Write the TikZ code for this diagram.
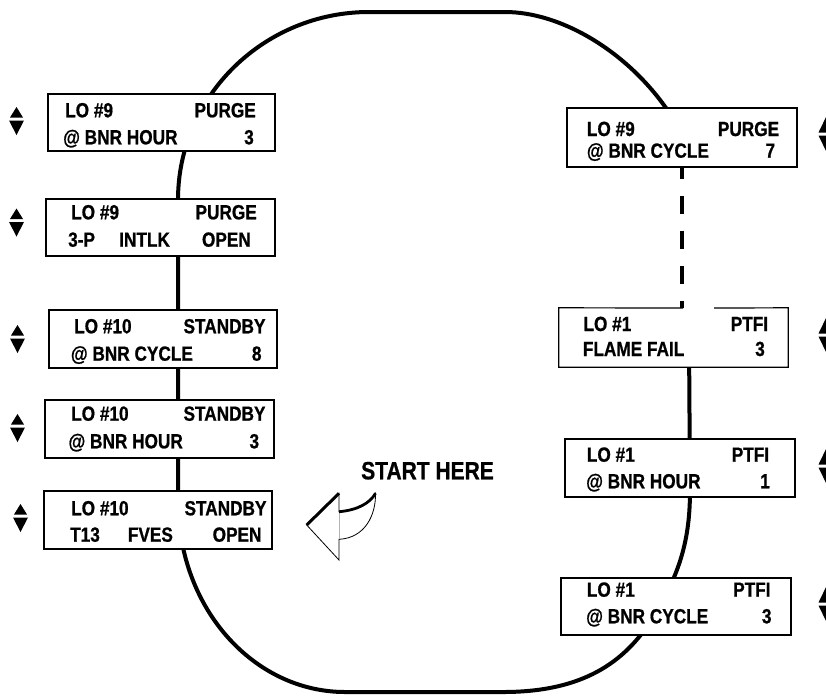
\documentclass[tikz,border=0pt]{standalone}
\usepackage{fontspec}
\setmainfont{Liberation Sans}[FakeStretch=0.84, FakeBold=0.8]
\begin{document}
\begin{tikzpicture}[x=1pt,y=-1pt,
  box/.style={draw, line width=1.2pt, fill=white, inner sep=0pt},
  lbl/.style={font=\fontsize{20.5}{21}\selectfont\bfseries, inner sep=0pt},
  lt/.style={lbl, anchor=base west},
  rt/.style={lbl, anchor=base east},
  track/.style={line width=4pt},
  dashtrack/.style={line width=3.5pt, dash pattern=on 18pt off 17pt, dash phase=7pt},
  thinline/.style={line width=0.8pt},
  thickline/.style={line width=3pt},
  lud/.pic={\fill (0,-14) -- (6.5,-3.5) -- (-6.5,-3.5) -- cycle;
            \fill (-7.5,-0.5) -- (7.5,-0.5) -- (0,14) -- cycle;},
  rud/.pic={\fill (0,-18) -- (8,-1.5) -- (-8,-1.5) -- cycle;
            \fill (-8,1.5) -- (8,1.5) -- (0,18) -- cycle;},
]
\useasboundingbox (0,0) rectangle (826,697);

% main track
\coordinate (t1) at (689,340);
\coordinate (t2) at (690,490);
\coordinate (t3) at (650,622);
\coordinate (t4) at (503,692);
\coordinate (t5) at (345,692);
\coordinate (t6) at (178,500);
\coordinate (t7) at (178,200);
\coordinate (t8) at (369,12);
\coordinate (t9) at (505,12);
\coordinate (t10) at (666,108);
\coordinate (t11) at (675,130);
\draw[track] (t1) -- (t2) .. controls (690,540) and (680,575) .. (t3)
  .. controls (620,668) and (575,692) .. (t4) -- (t5)
  .. controls (255,692) and (178,610) .. (t6) -- (t7)
  .. controls (178,95) and (265,12) .. (t8) -- (t9)
  .. controls (560,12) and (625,50) .. (t10) -- (t11);

% left boxes
\node[box, minimum width=227pt, minimum height=57pt] (L1) at (161.5,122.5) {};
\node[box, minimum width=229pt, minimum height=57pt] (L2) at (160.5,227.5) {};
\node[box, minimum width=228pt, minimum height=58pt] (L3) at (163,339) {};
\node[box, minimum width=229pt, minimum height=58pt] (L4) at (159.5,429) {};
\node[box, minimum width=228pt, minimum height=58pt] (L5) at (158,520) {};
% right boxes
\node[box, minimum width=230pt, minimum height=59pt] (R1) at (682,137.5) {};
\node[fill=white, inner sep=0pt, minimum width=229pt, minimum height=59pt] (R2) at (673.5,337.5) {};
\draw[line width=1.2pt] (683,308) -- (R2.north west) -- (R2.south west) -- (R2.south east) -- (R2.north east) -- (714,308);
\node[box, minimum width=230pt, minimum height=58pt] (R3) at (680,468) {};
\node[box, minimum width=230pt, minimum height=57pt] (R4) at (676,606.5) {};

% dashed link
\draw[dashtrack] (R1.south) -- (R1.south |- R2.north);

% texts
\node[lt] (L1a) at (65,117.3) {LO \#9};
\node[rt] (L1b) at (256,117.3) {PURGE};
\node[lt] (L1c) at (63,144.3) {@ BNR HOUR};
\node[rt] (L1d) at (254,144.3) {3};

\node[lt] (L2a) at (71,219.3) {LO \#9};
\node[rt] (L2b) at (257,219.3) {PURGE};
\node[lt] (L2c) at (68,246.7) {3-P};
\node[lt] (L2d) at (119,246.7) {INTLK};
\node[rt] (L2e) at (251,246.7) {OPEN};

\node[lt] (L3a) at (74,333.3) {LO \#10};
\node[rt] (L3b) at (265.7,333.3) {STANDBY};
\node[lt] (L3c) at (70.7,360.7) {@ BNR CYCLE};
\node[rt] (L3d) at (261.7,360.7) {8};

\node[lt] (L4a) at (71,420.7) {LO \#10};
\node[rt] (L4b) at (265.7,420.7) {STANDBY};
\node[lt] (L4c) at (68.3,448.3) {@ BNR HOUR};
\node[rt] (L4d) at (259.3,448.3) {3};

\node[lt] (L5a) at (71,515.3) {LO \#10};
\node[rt] (L5b) at (266.7,515.3) {STANDBY};
\node[lt] (L5c) at (70,541.7) {T13};
\node[lt] (L5d) at (127.7,541.7) {FVES};
\node[rt] (L5e) at (261.7,541.7) {OPEN};

\node[lt] (R1a) at (586.7,136) {LO \#9};
\node[rt] (R1b) at (779.3,136) {PURGE};
\node[lt] (R1c) at (586.7,157.7) {@ BNR CYCLE};
\node[rt] (R1d) at (775.3,157.7) {7};

\node[lt] (R2a) at (583.3,331) {LO \#1};
\node[rt] (R2b) at (768.3,331) {PTFI};
\node[lt] (R2c) at (582.7,356) {FLAME FAIL};
\node[rt] (R2d) at (765,356) {3};

\node[lt] (R3a) at (586.7,461.7) {LO \#1};
\node[rt] (R3b) at (769.3,461.7) {PTFI};
\node[lt] (R3c) at (586,488.3) {@ BNR HOUR};
\node[rt] (R3d) at (770,488.3) {1};

\node[lt] (R4a) at (586.7,596.7) {LO \#1};
\node[rt] (R4b) at (770.7,596.7) {PTFI};
\node[lt] (R4c) at (586,623.3) {@ BNR CYCLE};
\node[rt] (R4d) at (771.7,623.3) {3};

% up/down markers
\pic at (16.5,121) {lud};
\pic at (16.5,222.5) {lud};
\pic at (17.5,339) {lud};
\pic at (17.5,428) {lud};
\pic at (20.5,518) {lud};
\pic at (826.5,134) {rud};
\pic at (826.5,335) {rud};
\pic at (826.5,466) {rud};
\pic at (826.5,604) {rud};

% start here
\node[lbl, font=\fontsize{25}{27}\selectfont\bfseries, anchor=base west] (start) at (361,479.3) {START HERE};
\coordinate (atip) at (306.7,525);
\coordinate (aup) at (339,493.3);
\coordinate (ajup) at (339,511.7);
\coordinate (atail) at (375.5,493.3);
\coordinate (ajlo) at (339,539.3);
\coordinate (alo) at (339,560);
\draw[thinline, fill=white] (atip) -- (aup) -- (ajup)
  .. controls (358,510) and (370,503) .. (atail)
  .. controls (376,515) and (365,538) .. (ajlo) -- (alo) -- cycle;
\draw[line width=0.6pt, gray!60] (ajup) -- (ajlo);
\draw[thickline] (atip) -- (aup);
\draw[line width=2.8pt] (ajup) .. controls (358,510) and (370,503) .. (atail);
\end{tikzpicture}
\end{document}
